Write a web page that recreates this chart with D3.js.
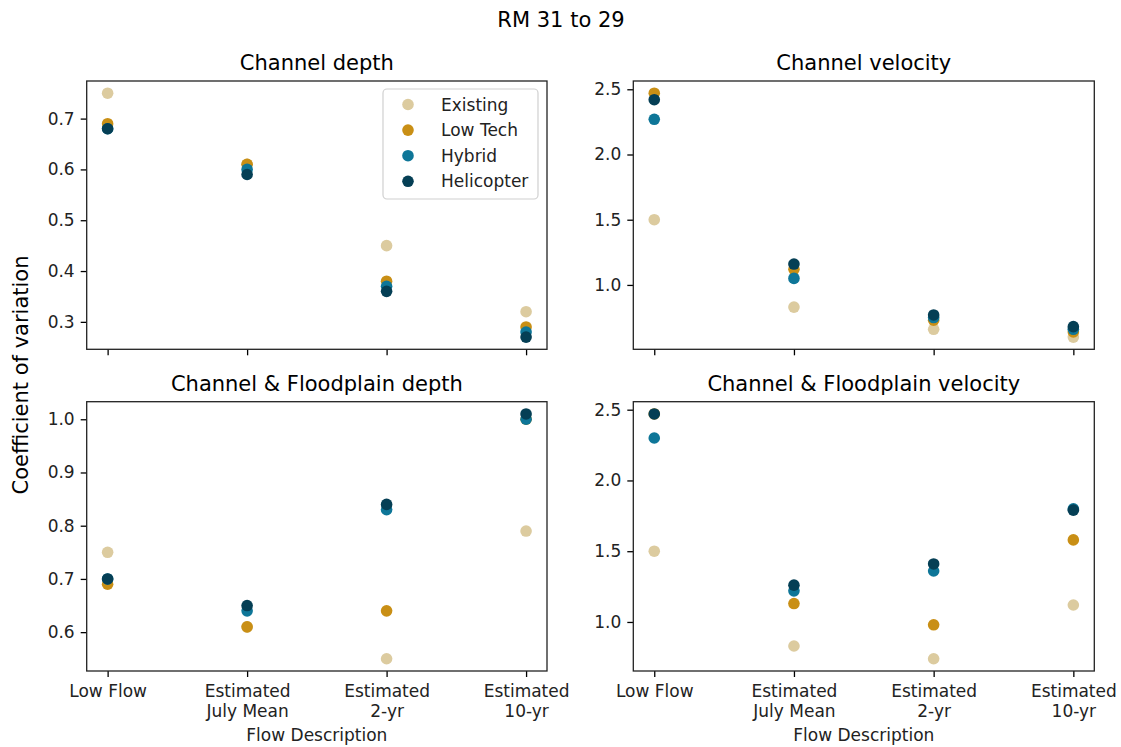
<!DOCTYPE html>
<html>
<head>
<meta charset="utf-8">
<script src="https://cdn.jsdelivr.net/npm/d3@7"></script>
<style>
  html, body { margin: 0; padding: 0; background: #fff; }
  svg { display: block; font-family: "DejaVu Sans", sans-serif; }
</style>
</head>
<body>
<svg id="chart" width="1121" height="747"></svg>
<script>
// ---- data ----
const categories = ["Low Flow", "Estimated\nJuly Mean", "Estimated\n2-yr", "Estimated\n10-yr"];
const seriesNames = ["Existing", "Low Tech", "Hybrid", "Helicopter"];
const seriesColors = ["#dccb9f", "#c98f15", "#0e7698", "#053f55"];

// each row: one series (Existing, Low Tech, Hybrid, Helicopter), values per category
const channelDepth = [
  [0.75, 0.61, 0.45, 0.32],
  [0.69, 0.61, 0.38, 0.29],
  [0.68, 0.60, 0.37, 0.28],
  [0.68, 0.59, 0.36, 0.27]
];
const channelVelocity = [
  [1.50, 0.83, 0.66, 0.60],
  [2.47, 1.12, 0.73, 0.64],
  [2.27, 1.05, 0.75, 0.66],
  [2.42, 1.16, 0.77, 0.68]
];
const floodDepth = [
  [0.75, 0.61, 0.55, 0.79],
  [0.69, 0.61, 0.64, 1.00],
  [0.70, 0.64, 0.83, 1.00],
  [0.70, 0.65, 0.84, 1.01]
];
const floodVelocity = [
  [1.50, 0.83, 0.74, 1.12],
  [2.47, 1.13, 0.98, 1.58],
  [2.30, 1.22, 1.36, 1.80],
  [2.47, 1.26, 1.41, 1.79]
];

const panelTitles = ["Channel depth", "Channel velocity", "Channel & Floodplain depth", "Channel & Floodplain velocity"];
const panelData = [channelDepth, channelVelocity, floodDepth, floodVelocity];
const figTitle = "RM 31 to 29";
const yLabel = "Coefficient of variation";
const xLabel = "Flow Description";

// ---- layout ----
const svg = d3.select("#chart");
const colX = [[86.7, 547], [633.3, 1094.3]];
const rowY = [[81, 349.3], [401.7, 671]];
const tickFont = 17, titleFont = 21;
const tickLen = 6, tickPad = 6, lw = 1.3;

svg.append("text").attr("x", 561).attr("y", 27).attr("text-anchor", "middle")
  .attr("font-size", titleFont).attr("fill", "#000").text(figTitle);

svg.append("text").attr("transform", "translate(28,375) rotate(-90)")
  .attr("text-anchor", "middle").attr("font-size", titleFont).attr("fill", "#000").text(yLabel);

panelData.forEach((data, pi) => {
  const r = Math.floor(pi / 2), c = pi % 2;
  const [x0, x1] = colX[c], [y0, y1] = rowY[r];
  const g = svg.append("g");

  const x = d3.scaleLinear().domain([-0.15, 3.15]).range([x0, x1]);
  const all = data.flat();
  const mn = d3.min(all), mx = d3.max(all), pad = (mx - mn) * 0.05;
  const y = d3.scaleLinear().domain([mn - pad, mx + pad]).range([y1, y0]);

  // y axis
  const yAxis = d3.axisLeft(y).ticks(5).tickFormat(d3.format(".1f")).tickSize(tickLen).tickPadding(tickPad);
  const ya = g.append("g").attr("transform", `translate(${x0},0)`).call(yAxis);
  ya.select(".domain").remove();
  ya.selectAll(".tick line").attr("stroke", "#000").attr("stroke-width", lw);
  ya.selectAll(".tick text").attr("font-size", tickFont).attr("font-family", "DejaVu Sans").attr("fill", "#222");

  // x axis
  const xAxis = d3.axisBottom(x).tickValues(d3.range(categories.length)).tickSize(tickLen).tickPadding(tickPad)
    .tickFormat(i => r === 1 ? categories[i] : "");
  const xa = g.append("g").attr("transform", `translate(0,${y1})`).call(xAxis);
  xa.select(".domain").remove();
  xa.selectAll(".tick line").attr("stroke", "#000").attr("stroke-width", lw);
  xa.selectAll(".tick text").each(function(i) {
    const t = d3.select(this);
    const lines = r === 1 ? categories[i].split("\n") : [];
    t.text(null).attr("font-size", tickFont).attr("font-family", "DejaVu Sans").attr("fill", "#222").attr("dy", null).attr("y", tickLen + tickPad);
    lines.forEach((ln, k) => {
      t.append("tspan").attr("x", 0).attr("y", tickLen + tickPad + 14 + k * 20).text(ln);
    });
  });
  if (r === 1) {
    g.append("text").attr("x", (x0 + x1) / 2).attr("y", 741).attr("text-anchor", "middle")
      .attr("font-size", tickFont).attr("fill", "#222").text(xLabel);
  }

  // points
  data.forEach((vals, si) => {
    g.append("g").selectAll("circle").data(vals).join("circle")
      .attr("cx", (d, i) => x(i)).attr("cy", d => y(d)).attr("r", 5.8)
      .attr("fill", seriesColors[si]);
  });

  // frame
  g.append("rect").attr("x", x0).attr("y", y0).attr("width", x1 - x0).attr("height", y1 - y0)
    .attr("fill", "none").attr("stroke", "#222").attr("stroke-width", lw);

  // title
  g.append("text").attr("x", (x0 + x1) / 2).attr("y", y0 - 11).attr("text-anchor", "middle")
    .attr("font-size", titleFont).attr("fill", "#000").text(panelTitles[pi]);

  // legend (first panel)
  if (pi === 0) {
    const lg = g.append("g");
    lg.append("rect").attr("x", 383).attr("y", 89).attr("width", 155).attr("height", 110)
      .attr("rx", 4).attr("fill", "#fff").attr("fill-opacity", 0.8).attr("stroke", "#d0d0d0").attr("stroke-width", 1.2);
    seriesNames.forEach((nm, si) => {
      const yy = 104.5 + si * 25.6;
      lg.append("circle").attr("cx", 408).attr("cy", yy).attr("r", 5.8).attr("fill", seriesColors[si]);
      lg.append("text").attr("x", 441).attr("y", yy + 6).attr("font-size", tickFont).attr("fill", "#222").text(nm);
    });
  }
});
</script>
</body>
</html>
